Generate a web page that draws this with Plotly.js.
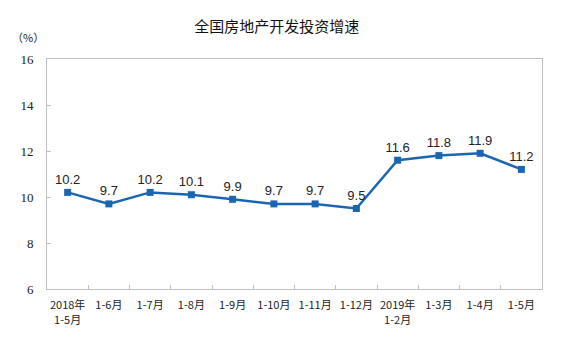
<!DOCTYPE html>
<html>
<head>
<meta charset="utf-8">
<script src="https://cdn.plot.ly/plotly-3.0.1.min.js"></script>
<style>html,body{margin:0;padding:0;background:#fff;}#chart{width:565px;height:356px;}</style>
</head>
<body>
<div id="chart"></div>
<script>
const categories = ["2018年<br>1-5月", "1-6月", "1-7月", "1-8月", "1-9月", "1-10月", "1-11月", "1-12月", "2019年<br>1-2月", "1-3月", "1-4月", "1-5月"];
const growth = [10.2, 9.7, 10.2, 10.1, 9.9, 9.7, 9.7, 9.5, 11.6, 11.8, 11.9, 11.2];
const yTicks = [6, 8, 10, 12, 14, 16];

const lineColor = "#1B66B3";
const axisColor = "#BFBFBF";

const trace = {
  x: categories,
  y: growth,
  type: "scatter",
  mode: "lines+markers+text",
  line: {color: lineColor, width: 2.5},
  marker: {symbol: "square", size: 7, color: lineColor},
  text: growth.map(v => v.toFixed(1)),
  textposition: "top center",
  textfont: {family: "Liberation Sans, Arial, sans-serif", size: 13, color: "#222"},
  cliponaxis: false,
  hoverinfo: "none"
};

const layout = {
  width: 565,
  height: 356,
  margin: {l: 47, r: 23, t: 59, b: 67},
  paper_bgcolor: "#fff",
  plot_bgcolor: "#fff",
  showlegend: false,
  title: {
    text: "全国房地产开发投资增速",
    font: {family: "Noto Sans CJK SC, sans-serif", size: 15, color: "#111"},
    x: 0.49, xanchor: "center", y: 0.925, yanchor: "middle"
  },
  xaxis: {
    type: "category",
    range: [-0.5, 11.5],
    showline: true, linecolor: axisColor, linewidth: 1,
    mirror: true,
    ticks: "inside", tickson: "boundaries", ticklen: 4, tickcolor: axisColor,
    showgrid: false, zeroline: false,
    ticklabelstandoff: 6,
    tickfont: {family: "Noto Sans CJK SC, sans-serif", size: 11, color: "#222"},
    tickangle: 0,
    fixedrange: true
  },
  yaxis: {
    range: [6, 16],
    tickvals: yTicks,
    ticktext: yTicks.map(String),
    showline: true, linecolor: axisColor, linewidth: 1,
    mirror: true,
    ticks: "inside", ticklen: 4, tickcolor: axisColor,
    showgrid: false, zeroline: false,
    ticklabelstandoff: 10,
    tickfont: {family: "Liberation Serif, Times New Roman, serif", size: 13, color: "#222"},
    fixedrange: true
  },
  annotations: [{
    text: "（%）",
    xref: "paper", yref: "paper",
    x: -0.038, y: 1.095, xanchor: "center", yanchor: "middle",
    showarrow: false,
    font: {family: "Noto Sans CJK SC, sans-serif", size: 11, color: "#222"}
  }]
};

Plotly.newPlot("chart", [trace], layout, {staticPlot: true, displayModeBar: false});
</script>
</body>
</html>
